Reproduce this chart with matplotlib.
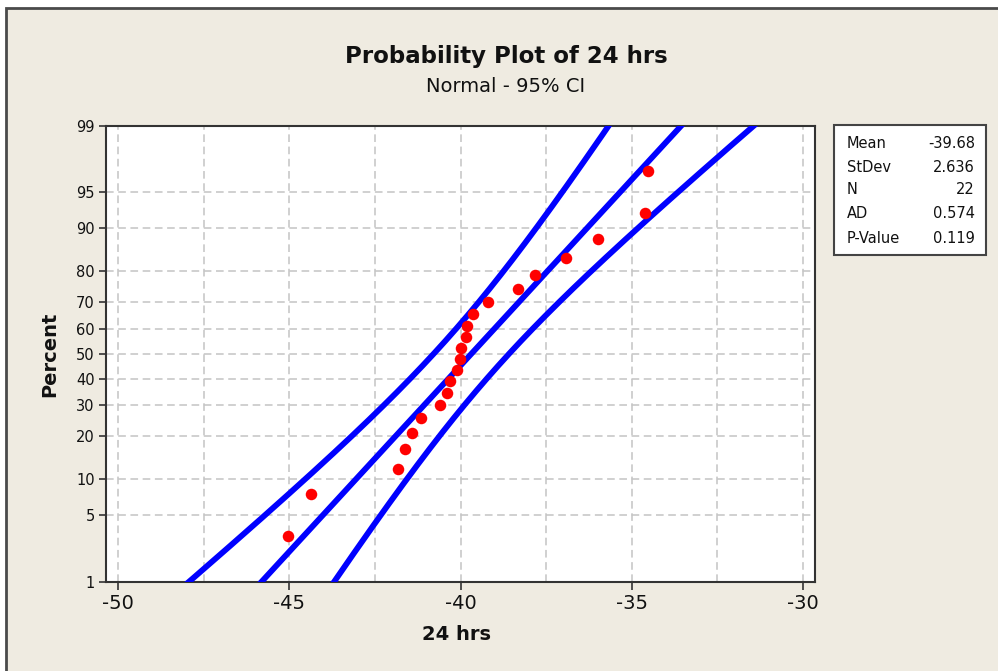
import numpy as np
import matplotlib
matplotlib.use('Agg')
import matplotlib.pyplot as plt
from matplotlib.patches import Rectangle
from statistics import NormalDist

# data (sorted)
hrs_24 = [-45.04, -44.37, -41.83, -41.61, -41.41, -41.15, -40.60, -40.40,
          -40.31, -40.10, -40.02, -39.99, -39.83, -39.80, -39.64, -39.19,
          -38.33, -37.81, -36.91, -35.97, -34.60, -34.52]

mean_val = -39.68
sd_val = 2.636
n_val = 22

stat_names = ['Mean', 'StDev', 'N', 'AD', 'P-Value']
stat_values = ['-39.68', '2.636', '22', '0.574', '0.119']

pct_ticks = [1, 5, 10, 20, 30, 40, 50, 60, 70, 80, 90, 95, 99]
pct_grid = [5, 10, 20, 30, 40, 50, 60, 70, 80, 90, 95]
x_ticks = [-50, -45, -40, -35, -30]
x_grid = [-50, -47.5, -45, -42.5, -40, -37.5, -35, -32.5, -30]

nd = NormalDist()
_ppf = np.vectorize(nd.inv_cdf, otypes=[float])
_cdf = np.vectorize(nd.cdf, otypes=[float])


def to_z(p):
    p = np.clip(np.asarray(p, dtype=float) / 100.0, 1e-7, 1 - 1e-7)
    return _ppf(p)


def from_z(z):
    return _cdf(np.asarray(z, dtype=float)) * 100.0


W, H = 998, 671


def fx(px):
    return px / W


def fy(py):
    return 1 - py / H


fig = plt.figure(figsize=(W / 100, H / 100), dpi=100, facecolor='white')

# window frame with beige background
fig.patches.append(Rectangle((fx(6), -0.05), 1.1, fy(8) + 0.05, transform=fig.transFigure,
                             facecolor='#EFEBE1', edgecolor='#4a4a4a', lw=2, zorder=-10))

ax = fig.add_axes([fx(106), fy(581.7), fx(815) - fx(106), fy(125.7) - fy(581.7)])
ax.set_yscale('function', functions=(to_z, from_z))
ax.set_facecolor('white')

# median ranks (Minitab default) for plotting positions
ranks = np.arange(1, len(hrs_24) + 1)
pcts = (ranks - 0.3) / (len(hrs_24) + 0.4) * 100

# fitted line and 95% CI
pp = np.linspace(0.3, 99.7, 500)
z = to_z(pp)
fit = mean_val + sd_val * z
half = 1.96 * sd_val * np.sqrt((1 + z ** 2 / 2) / n_val)

for xs in (fit - half, fit, fit + half):
    ax.plot(xs, pp, color='#0000FF', lw=4.2, solid_capstyle='butt', zorder=3)

ax.plot(hrs_24, pcts, 'o', color='#FF0000', ms=8.3, mec='none', zorder=4)

# grid
for g in x_grid:
    ax.axvline(g, color='#c4c4c4', lw=1.1, ls=(0, (5, 3)), zorder=1)
for g in pct_grid:
    ax.axhline(g, color='#c4c4c4', lw=1.1, ls=(0, (5, 3)), zorder=1)

ax.set_xlim(-50.36, -29.64)
ax.set_ylim(1, 99)
ax.set_xticks(x_ticks)
ax.set_xticklabels([str(t) for t in x_ticks], fontsize=14, color='#111111')
ax.set_yticks(pct_ticks)
ax.set_yticklabels([str(t) for t in pct_ticks], fontsize=10.5, color='#111111')
ax.yaxis.set_minor_locator(matplotlib.ticker.NullLocator())
ax.tick_params(axis='x', length=6, width=1.2, pad=3, color='#333333')
ax.tick_params(axis='y', length=5, width=1.2, pad=3, color='#333333')
for s in ax.spines.values():
    s.set_color('#333333')
    s.set_linewidth(1.5)

# titles and axis labels
fig.text(fx(506), fy(57), 'Probability Plot of 24 hrs', ha='center', va='center',
         fontsize=16.5, fontweight='bold', color='#111111')
fig.text(fx(506), fy(86), 'Normal - 95% CI', ha='center', va='center',
         fontsize=14, color='#111111')
fig.text(fx(50), fy(354), 'Percent', rotation=90, ha='center', va='center',
         fontsize=14, fontweight='bold', color='#111111')
fig.text(fx(457), fy(635), '24 hrs', ha='center', va='center',
         fontsize=14, fontweight='bold', color='#111111')

# stats box
fig.patches.append(Rectangle((fx(833.5), fy(255)), fx(986) - fx(833.5), fy(125) - fy(255),
                             transform=fig.transFigure, facecolor='white',
                             edgecolor='#444444', lw=1.5, zorder=2))
row_y = [143, 167, 190, 213, 238]
for name, val, ry in zip(stat_names, stat_values, row_y):
    fig.text(fx(847), fy(ry), name, ha='left', va='center', fontsize=10.5, color='#111111')
    fig.text(fx(975), fy(ry), val, ha='right', va='center', fontsize=10.5, color='#111111')

fig.savefig('out.png', dpi=100, facecolor=fig.get_facecolor())
